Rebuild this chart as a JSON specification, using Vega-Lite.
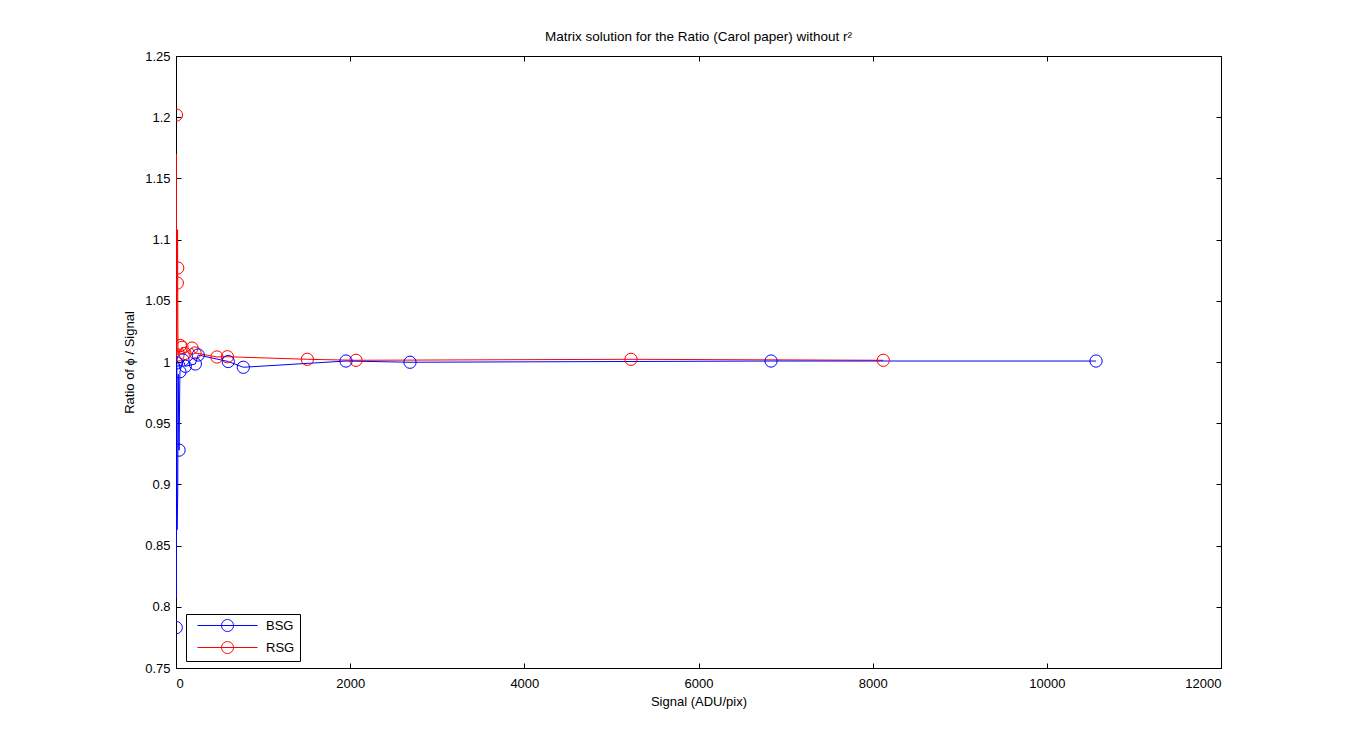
{
  "$schema": "https://vega.github.io/schema/vega-lite/v6.json",
  "autosize": {"type": "none"},
  "padding": {"left": 176, "top": 56, "right": 129, "bottom": 82},
  "width": 1045,
  "height": 612,
  "background": "white",
  "title": {
    "text": "Matrix solution for the Ratio (Carol paper) without r²",
    "font": "Liberation Sans",
    "fontSize": 13.5,
    "fontWeight": "normal",
    "color": "black",
    "offset": 7
  },
  "config": {
    "view": {"stroke": "black", "strokeWidth": 1},
    "axis": {
      "labelFont": "Liberation Sans",
      "labelFontSize": 13,
      "labelColor": "black",
      "titleFont": "Liberation Sans",
      "titleFontSize": 13,
      "titleFontWeight": "normal",
      "titleColor": "black",
      "domainColor": "black",
      "tickColor": "black",
      "tickSize": -5,
      "grid": false
    },
    "legend": {
      "labelFont": "Liberation Sans",
      "labelFontSize": 13,
      "labelColor": "black"
    }
  },
  "datasets": {
    "lines": [
      {"series": "RSG", "order": 1, "signal": 5, "ratio": 1.17},
      {"series": "RSG", "order": 2, "signal": 8, "ratio": 1.0},
      {"series": "RSG", "order": 3, "signal": 18, "ratio": 1.108},
      {"series": "RSG", "order": 4, "signal": 20, "ratio": 1.06},
      {"series": "RSG", "order": 5, "signal": 23, "ratio": 1.0057},
      {"series": "RSG", "order": 6, "signal": 69, "ratio": 1.012},
      {"series": "RSG", "order": 7, "signal": 103, "ratio": 1.007},
      {"series": "RSG", "order": 8, "signal": 184, "ratio": 1.0114},
      {"series": "RSG", "order": 9, "signal": 218, "ratio": 1.0074},
      {"series": "RSG", "order": 10, "signal": 470, "ratio": 1.0041},
      {"series": "RSG", "order": 11, "signal": 590, "ratio": 1.0043},
      {"series": "RSG", "order": 12, "signal": 1508, "ratio": 1.0022},
      {"series": "RSG", "order": 13, "signal": 2067, "ratio": 1.0014},
      {"series": "RSG", "order": 14, "signal": 5225, "ratio": 1.0022},
      {"series": "RSG", "order": 15, "signal": 8122, "ratio": 1.0014},
      {"series": "BSG", "order": 1, "signal": 5, "ratio": 0.807},
      {"series": "BSG", "order": 2, "signal": 8, "ratio": 0.999},
      {"series": "BSG", "order": 3, "signal": 12, "ratio": 0.863},
      {"series": "BSG", "order": 4, "signal": 20, "ratio": 0.893},
      {"series": "BSG", "order": 5, "signal": 25, "ratio": 0.99},
      {"series": "BSG", "order": 6, "signal": 35, "ratio": 0.928},
      {"series": "BSG", "order": 7, "signal": 45, "ratio": 0.992},
      {"series": "BSG", "order": 8, "signal": 80, "ratio": 1.0016},
      {"series": "BSG", "order": 9, "signal": 107, "ratio": 0.9965},
      {"series": "BSG", "order": 10, "signal": 222, "ratio": 0.9984},
      {"series": "BSG", "order": 11, "signal": 255, "ratio": 1.0057},
      {"series": "BSG", "order": 12, "signal": 600, "ratio": 1.0004},
      {"series": "BSG", "order": 13, "signal": 773, "ratio": 0.9957},
      {"series": "BSG", "order": 14, "signal": 1952, "ratio": 1.0008},
      {"series": "BSG", "order": 15, "signal": 2687, "ratio": 0.9998},
      {"series": "BSG", "order": 16, "signal": 6833, "ratio": 1.0008},
      {"series": "BSG", "order": 17, "signal": 10565, "ratio": 1.0008}
    ],
    "markers": [
      {"series": "RSG", "signal": 5, "ratio": 1.2018},
      {"series": "RSG", "signal": 20, "ratio": 1.0768},
      {"series": "RSG", "signal": 15, "ratio": 1.0645},
      {"series": "RSG", "signal": 23, "ratio": 1.0057},
      {"series": "RSG", "signal": 50, "ratio": 1.0135},
      {"series": "RSG", "signal": 69, "ratio": 1.012},
      {"series": "RSG", "signal": 103, "ratio": 1.007},
      {"series": "RSG", "signal": 184, "ratio": 1.0114},
      {"series": "RSG", "signal": 218, "ratio": 1.0074},
      {"series": "RSG", "signal": 470, "ratio": 1.0041},
      {"series": "RSG", "signal": 590, "ratio": 1.0043},
      {"series": "RSG", "signal": 1508, "ratio": 1.0022},
      {"series": "RSG", "signal": 2067, "ratio": 1.0014},
      {"series": "RSG", "signal": 5225, "ratio": 1.0022},
      {"series": "RSG", "signal": 8122, "ratio": 1.0014},
      {"series": "BSG", "signal": 3, "ratio": 0.783},
      {"series": "BSG", "signal": 35, "ratio": 0.928},
      {"series": "BSG", "signal": 45, "ratio": 0.992},
      {"series": "BSG", "signal": 5, "ratio": 0.9992},
      {"series": "BSG", "signal": 80, "ratio": 1.0016},
      {"series": "BSG", "signal": 107, "ratio": 0.9965},
      {"series": "BSG", "signal": 222, "ratio": 0.9984},
      {"series": "BSG", "signal": 255, "ratio": 1.0057},
      {"series": "BSG", "signal": 600, "ratio": 1.0004},
      {"series": "BSG", "signal": 773, "ratio": 0.9957},
      {"series": "BSG", "signal": 1952, "ratio": 1.0008},
      {"series": "BSG", "signal": 2687, "ratio": 0.9998},
      {"series": "BSG", "signal": 6833, "ratio": 1.0008},
      {"series": "BSG", "signal": 10565, "ratio": 1.0008}
    ]
  },
  "layer": [
    {
      "data": {"name": "lines"},
      "mark": {"type": "line", "strokeWidth": 1, "clip": true},
      "encoding": {
        "x": {
          "field": "signal", "type": "quantitative",
          "scale": {"domain": [0, 12000], "nice": false, "zero": false},
          "axis": {"orient": "bottom", "title": "Signal (ADU/pix)", "values": [0, 2000, 4000, 6000, 8000, 10000, 12000], "format": "d", "labelPadding": 14, "titlePadding": 5}
        },
        "y": {
          "field": "ratio", "type": "quantitative",
          "scale": {"domain": [0.75, 1.25], "nice": false, "zero": false},
          "axis": {"orient": "left", "title": "Ratio of ϕ / Signal", "values": [0.75, 0.8, 0.85, 0.9, 0.95, 1, 1.05, 1.1, 1.15, 1.2, 1.25], "format": "~g", "labelPadding": 11, "titlePadding": 8}
        },
        "order": {"field": "order", "type": "quantitative"},
        "color": {
          "field": "series", "type": "nominal",
          "scale": {"domain": ["BSG", "RSG"], "range": ["#0000ff", "#ff0000"]},
          "legend": {
            "title": null,
            "orient": "none",
            "legendX": 10,
            "legendY": 558,
            "symbolType": "M0,0L10,0M4,0A1,1 0 1,0 6,0A1,1 0 1,0 4,0",
            "symbolSize": 144,
            "symbolStrokeWidth": 1,
            "symbolFillColor": "transparent",
            "labelOffset": 62,
            "padding": 5,
            "rowPadding": 5,
            "strokeColor": "black",
            "fillColor": "white"
          }
        }
      }
    },
    {
      "data": {"name": "markers"},
      "mark": {"type": "point", "shape": "circle", "filled": false, "size": 150, "strokeWidth": 1, "opacity": 1, "clip": true},
      "encoding": {
        "x": {
          "field": "signal", "type": "quantitative",
          "axis": {"orient": "top", "title": null, "labels": false, "values": [0, 2000, 4000, 6000, 8000, 10000, 12000], "domain": false}
        },
        "y": {
          "field": "ratio", "type": "quantitative",
          "axis": {"orient": "right", "title": null, "labels": false, "values": [0.75, 0.8, 0.85, 0.9, 0.95, 1, 1.05, 1.1, 1.15, 1.2, 1.25], "domain": false}
        },
        "color": {
          "field": "series", "type": "nominal",
          "scale": {"domain": ["BSG", "RSG"], "range": ["#0000ff", "#ff0000"]},
          "legend": {
            "title": null,
            "orient": "none",
            "legendX": 10,
            "legendY": 558,
            "symbolType": "M0,0L10,0M4,0A1,1 0 1,0 6,0A1,1 0 1,0 4,0",
            "symbolSize": 144,
            "symbolStrokeWidth": 1,
            "symbolFillColor": "transparent",
            "labelOffset": 62,
            "padding": 5,
            "rowPadding": 5,
            "strokeColor": "black",
            "fillColor": "white"
          }
        }
      }
    }
  ],
  "resolve": {"axis": {"x": "independent", "y": "independent"}}
}
